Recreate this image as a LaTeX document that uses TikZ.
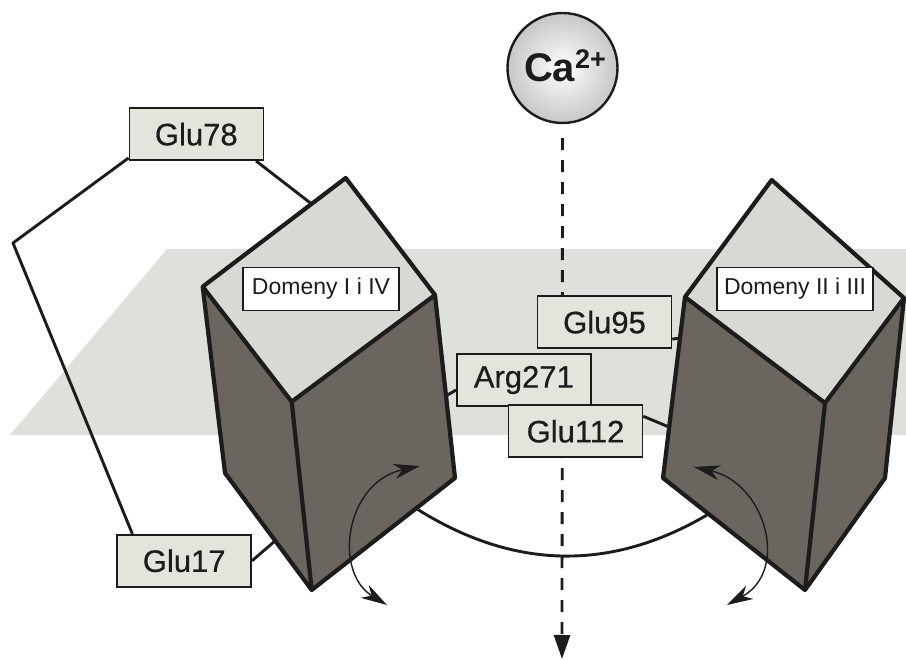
\documentclass[tikz,border=0pt]{standalone}
\usepackage{fontspec}
\setmainfont{Liberation Sans}
\usetikzlibrary{arrows.meta,calc}

\definecolor{band}{HTML}{DFDFDC}
\definecolor{topface}{HTML}{D8D8D4}
\definecolor{sideface}{HTML}{6A655F}
\definecolor{labelfill}{HTML}{E4E4DC}
\definecolor{ink}{HTML}{1C1C1C}

\begin{document}
\begin{tikzpicture}[x=1pt,y=-1pt,
  residue/.style={draw=ink, line width=1.6pt, fill=labelfill, text=ink,
    minimum width=134pt, minimum height=52pt, inner sep=0pt,
    font=\fontsize{31}{32}\selectfont\addfontfeature{FakeBold=0.6}},
  domainbox/.style={draw=ink, line width=1.6pt, fill=white, text=ink,
    minimum width=156pt, minimum height=43pt, inner sep=0pt,
    font=\fontsize{23}{24}\selectfont},
  tether/.style={draw=ink, line width=2.9pt, line join=round},
  blockedge/.style={draw=ink, line width=4.2pt, line join=round},
  swing/.style={draw=ink, line width=1.4pt,
    {Stealth[length=26pt,width=15pt,inset=8pt]}-{Stealth[length=26pt,width=15pt,inset=8pt]}},
  flux/.style={draw=ink, line width=2.8pt, dash pattern=on 12pt off 10pt,
    -{Triangle[length=24pt,width=16pt]}}
]
\useasboundingbox (0,0) rectangle (906,660);

% membrane plane
\fill[band] (167,249) -- (906,249) -- (906,435) -- (10,435) -- cycle;

% calcium ion
\node[circle, draw=ink, line width=2.4pt, minimum size=110pt, inner sep=0pt,
      shading=radial, inner color=white, outer color=black!22] (ca) at (562.5,68) {};
\node[text=ink, inner sep=0pt] (catext) at (565,66)
  {\bfseries\fontsize{40}{41}\selectfont Ca\raisebox{13pt}{\fontsize{27}{27}\selectfont 2+}};

% residue boxes of the outer loop
\node[residue] (g78) at (196.3,134.2) {Glu78};
\node[residue] (g17) at (184.2,560.8) {Glu17};

% block vertices: domains I and IV
\coordinate (aT) at (345.7,178);
\coordinate (aL) at (202.7,286.7);
\coordinate (aF) at (291.7,401.7);
\coordinate (aR) at (435,295);
\coordinate (aLb) at (225,473);
\coordinate (aFb) at (311.7,590);
\coordinate (aRb) at (455,478);
% block vertices: domains II and III
\coordinate (bT) at (771.7,180);
\coordinate (bL) at (685,297);
\coordinate (bF) at (825,403);
\coordinate (bR) at (904,298);
\coordinate (bLb) at (663,478);
\coordinate (bFb) at (805,590);
\coordinate (bRb) at (885,478);

% loop ends on the blocks
\coordinate (loopL) at (13,243);
\coordinate (hitTop) at (311.7,204);
\coordinate (hit17) at (275,541);
\coordinate (hit271) at (446,396);
\coordinate (hit95) at (680,338);
\coordinate (hit112) at (669,427);
\coordinate (arcA) at (417,509);
\coordinate (arcB) at (707,515);
\coordinate (flowEnd) at (562,659);

% loop Glu78 -- Glu17 and the tether into the first block
\draw[tether] ([yshift=3pt]g78.south west) -- (loopL) -- ([xshift=16pt]g17.north west);
\draw[tether] ([xshift=-8pt]g78.south east) -- (hitTop);

% first block
\fill[sideface] (aL) -- (aF) -- (aFb) -- (aLb) -- cycle;
\fill[sideface] (aF) -- (aR) -- (aRb) -- (aFb) -- cycle;
\fill[topface] (aT) -- (aR) -- (aF) -- (aL) -- cycle;
\draw[blockedge] (aT) -- (aR) -- (aRb) -- (aFb) -- (aLb) -- (aL) -- cycle;
\draw[blockedge] (aL) -- (aF) -- (aR);
\draw[blockedge] (aF) -- (aFb);

% second block
\fill[sideface] (bL) -- (bF) -- (bFb) -- (bLb) -- cycle;
\fill[sideface] (bF) -- (bR) -- (bRb) -- (bFb) -- cycle;
\fill[topface] (bT) -- (bR) -- (bF) -- (bL) -- cycle;
\draw[blockedge] (bT) -- (bR) -- (bRb) -- (bFb) -- (bLb) -- (bL) -- cycle;
\draw[blockedge] (bL) -- (bF) -- (bR);
\draw[blockedge] (bF) -- (bFb);

\node[domainbox] (d14) at (321,289) {Domeny I i IV};
\node[domainbox] (d23) at (795,289) {Domeny II i III};

% ion path through the pore
\draw[flux] ([yshift=-14pt]ca.south) -- (flowEnd);

% loop joining the two blocks below the plane
\draw[tether] (arcA) .. controls (513.7,569.7) and (610.3,571.7) .. (arcB);

% pore residues
\node[residue] (g95) at (604.5,322.2) {Glu95};
\node[residue] (a271) at (523.8,380) {Arg271};
\node[residue] (g112) at (575.5,431.3) {Glu112};

\draw[tether] ([yshift=-10pt]a271.west) -- (hit271);
\draw[tether] ([yshift=-17pt]g95.east) -- (hit95);
\draw[tether] ([yshift=15pt]g112.east) -- (hit112);
\draw[tether] (g17.east) -- (hit17);

% rotation of the blocks
\coordinate (swAup) at (420,466);
\coordinate (swAdn) at (387,605);
\coordinate (swBup) at (694,467);
\coordinate (swBdn) at (727,605);
\draw[swing] (swAup) .. controls (345,482) and (333,572) .. (swAdn);
\draw[swing] (swBup) .. controls (765,483) and (790,570) .. (swBdn);
\end{tikzpicture}
\end{document}
